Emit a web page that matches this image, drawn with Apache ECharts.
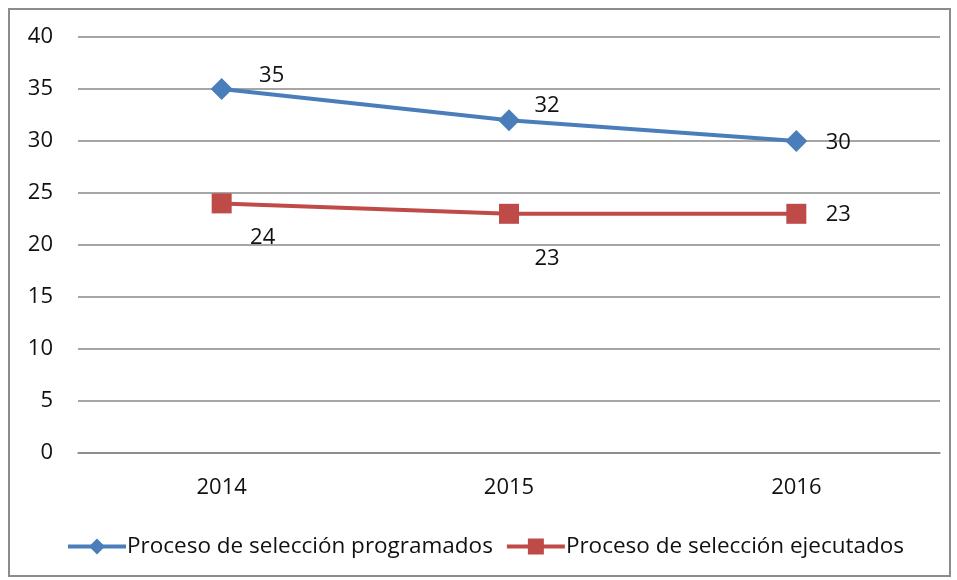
<!DOCTYPE html>
<html>
<head>
<meta charset="utf-8">
<script src="https://cdn.jsdelivr.net/npm/echarts@6/dist/echarts.min.js"></script>
<style>
  html, body { margin: 0; padding: 0; background: #fff; }
  #main { width: 957px; height: 580px; }
  #frame { position: absolute; left: 8px; top: 8px; width: 943px; height: 569px; border: 2px solid #8c8c8c; box-sizing: border-box; pointer-events: none; }
</style>
</head>
<body>
<div id="main"></div>
<div id="frame"></div>
<script>
const years = ['2014', '2015', '2016'];
const programados = [35, 32, 30];
const ejecutados = [24, 23, 23];
const yTicks = [0, 5, 10, 15, 20, 25, 30, 35, 40];

// label offsets from each point (px), as in the original
const progOffsets = [[50, -13], [38, -14], [42, 2]];
const ejecOffsets = [[41, 34], [38, 45], [42, 1]];

const font = 'Open Sans, Noto Sans, sans-serif';

function withLabels(values, offsets) {
  return values.map(function (v, i) {
    return {
      value: v,
      label: { show: true, position: 'inside', offset: offsets[i] }
    };
  });
}

const option = {
  backgroundColor: '#fff',
  animation: false,
  grid: { left: 78, right: 17, top: 37, bottom: 127 },
  xAxis: {
    type: 'category',
    data: years,
    boundaryGap: true,
    axisLine: { show: true, lineStyle: { color: '#888', width: 1.5 } },
    axisTick: { show: false },
    axisLabel: { color: '#111', fontSize: 22, fontFamily: font, margin: 24 }
  },
  yAxis: {
    type: 'value',
    min: yTicks[0],
    max: yTicks[yTicks.length - 1],
    interval: 5,
    axisLine: { show: false },
    axisTick: { show: false },
    axisLabel: { color: '#111', fontSize: 22, fontFamily: font, margin: 25 },
    splitLine: { lineStyle: { color: '#888', width: 1.5 } }
  },
  legend: {
    left: 61,
    top: 530,
    itemWidth: 58,
    itemHeight: 20,
    itemGap: 12,
    lineStyle: { width: 4 },
    textStyle: { color: '#111', fontSize: 22.5, fontFamily: font, padding: [0, 0, 0, -4] },
    data: ['Proceso de selección programados', 'Proceso de selección ejecutados']
  },
  series: [
    {
      name: 'Proceso de selección programados',
      type: 'line',
      data: withLabels(programados, progOffsets),
      symbol: 'diamond',
      symbolSize: 22,
      color: '#4a7ebb',
      lineStyle: { width: 4, color: '#4a7ebb' },
      itemStyle: { color: '#4a7ebb' },
      label: { color: '#111', fontSize: 22, fontFamily: font }
    },
    {
      name: 'Proceso de selección ejecutados',
      type: 'line',
      data: withLabels(ejecutados, ejecOffsets),
      symbol: 'rect',
      symbolSize: 20,
      color: '#be4b48',
      lineStyle: { width: 4, color: '#be4b48' },
      itemStyle: { color: '#be4b48' },
      label: { color: '#111', fontSize: 22, fontFamily: font }
    }
  ]
};

let myChart = echarts.init(document.getElementById('main'), null, { renderer: 'canvas' });
myChart.setOption(option);
</script>
</body>
</html>
